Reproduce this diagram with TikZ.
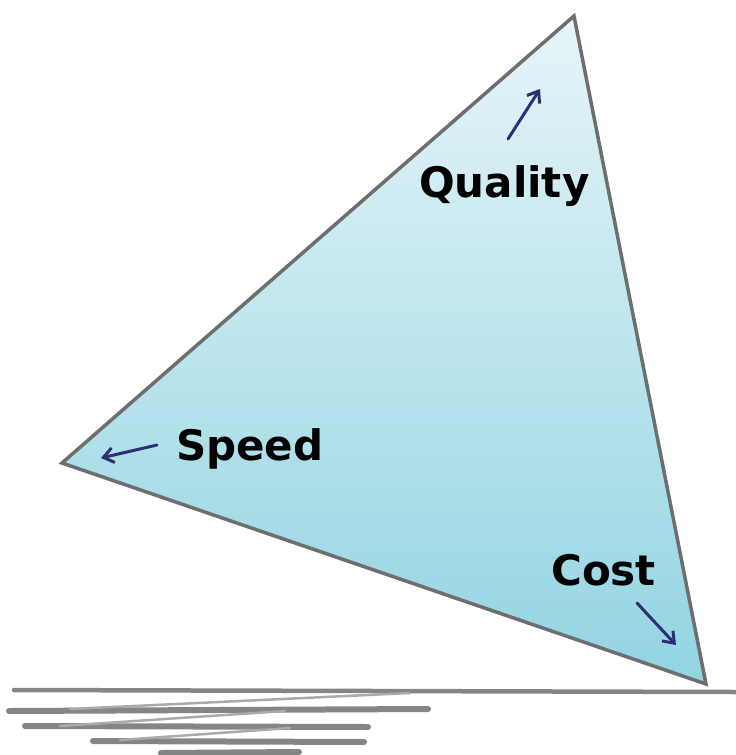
\documentclass[tikz,border=0pt]{standalone}
\usepackage{fontspec}
\setmainfont{DejaVu Sans}
\usetikzlibrary{arrows.meta}
\definecolor{tritop}{HTML}{E6F5F9}
\definecolor{tribot}{HTML}{92D4E1}
\definecolor{edgegray}{HTML}{6E6E6E}
\definecolor{navy}{HTML}{2C2F74}
\definecolor{scribble}{HTML}{858585}
\tikzset{
  lbl/.style={font=\fontsize{42}{46}\selectfont\bfseries, text=black, inner sep=0pt, anchor=base west},
  pointer/.style={navy, line width=3pt, line cap=round, -{Straight Barb[length=10pt,width=15pt,line width=3pt]}},
  ground/.style={scribble, line cap=round},
}
\begin{document}
\begin{tikzpicture}[x=1pt,y=-1pt]
\useasboundingbox (0,0) rectangle (736,755);
\coordinate (T) at (574,16);
\coordinate (L) at (62,463);
\coordinate (R) at (706,684);
\shade[top color=tritop, bottom color=tribot] (T) -- (L) -- (R) -- cycle;
\draw[edgegray, line width=3.5pt, line join=miter] (T) -- (L) -- (R) -- cycle;
% ground scribbles
\draw[ground, line width=4.5pt] (14,690) -- (736,692);
\draw[ground, line width=6pt] (9,711) -- (428,709);
\draw[ground, line width=2.5pt, scribble!70] (70,709) -- (410,693);
\draw[ground, line width=6pt] (25,726) -- (368,727);
\draw[ground, line width=2.5pt, scribble!70] (60,726) -- (285,711);
\draw[ground, line width=6pt] (93,741) -- (364,742);
\draw[ground, line width=2.5pt, scribble!70] (120,740) -- (290,728);
\draw[ground, line width=6pt] (161,753) -- (299,752);
% labels
\node[lbl] (quality) at (419,197) {Quality};
\node[lbl] (speed) at (176,460) {Speed};
\node[lbl] (cost) at (551,585) {Cost};
% arrows
\coordinate (qa) at (508,139);
\coordinate (qb) at (540,89);
\coordinate (sa) at (157,445);
\coordinate (sb) at (101,458);
\coordinate (ca) at (637,603);
\coordinate (cb) at (676,645);
\draw[pointer] (qa) -- (qb);
\draw[pointer] (sa) -- (sb);
\draw[pointer] (ca) -- (cb);
\end{tikzpicture}
\end{document}
